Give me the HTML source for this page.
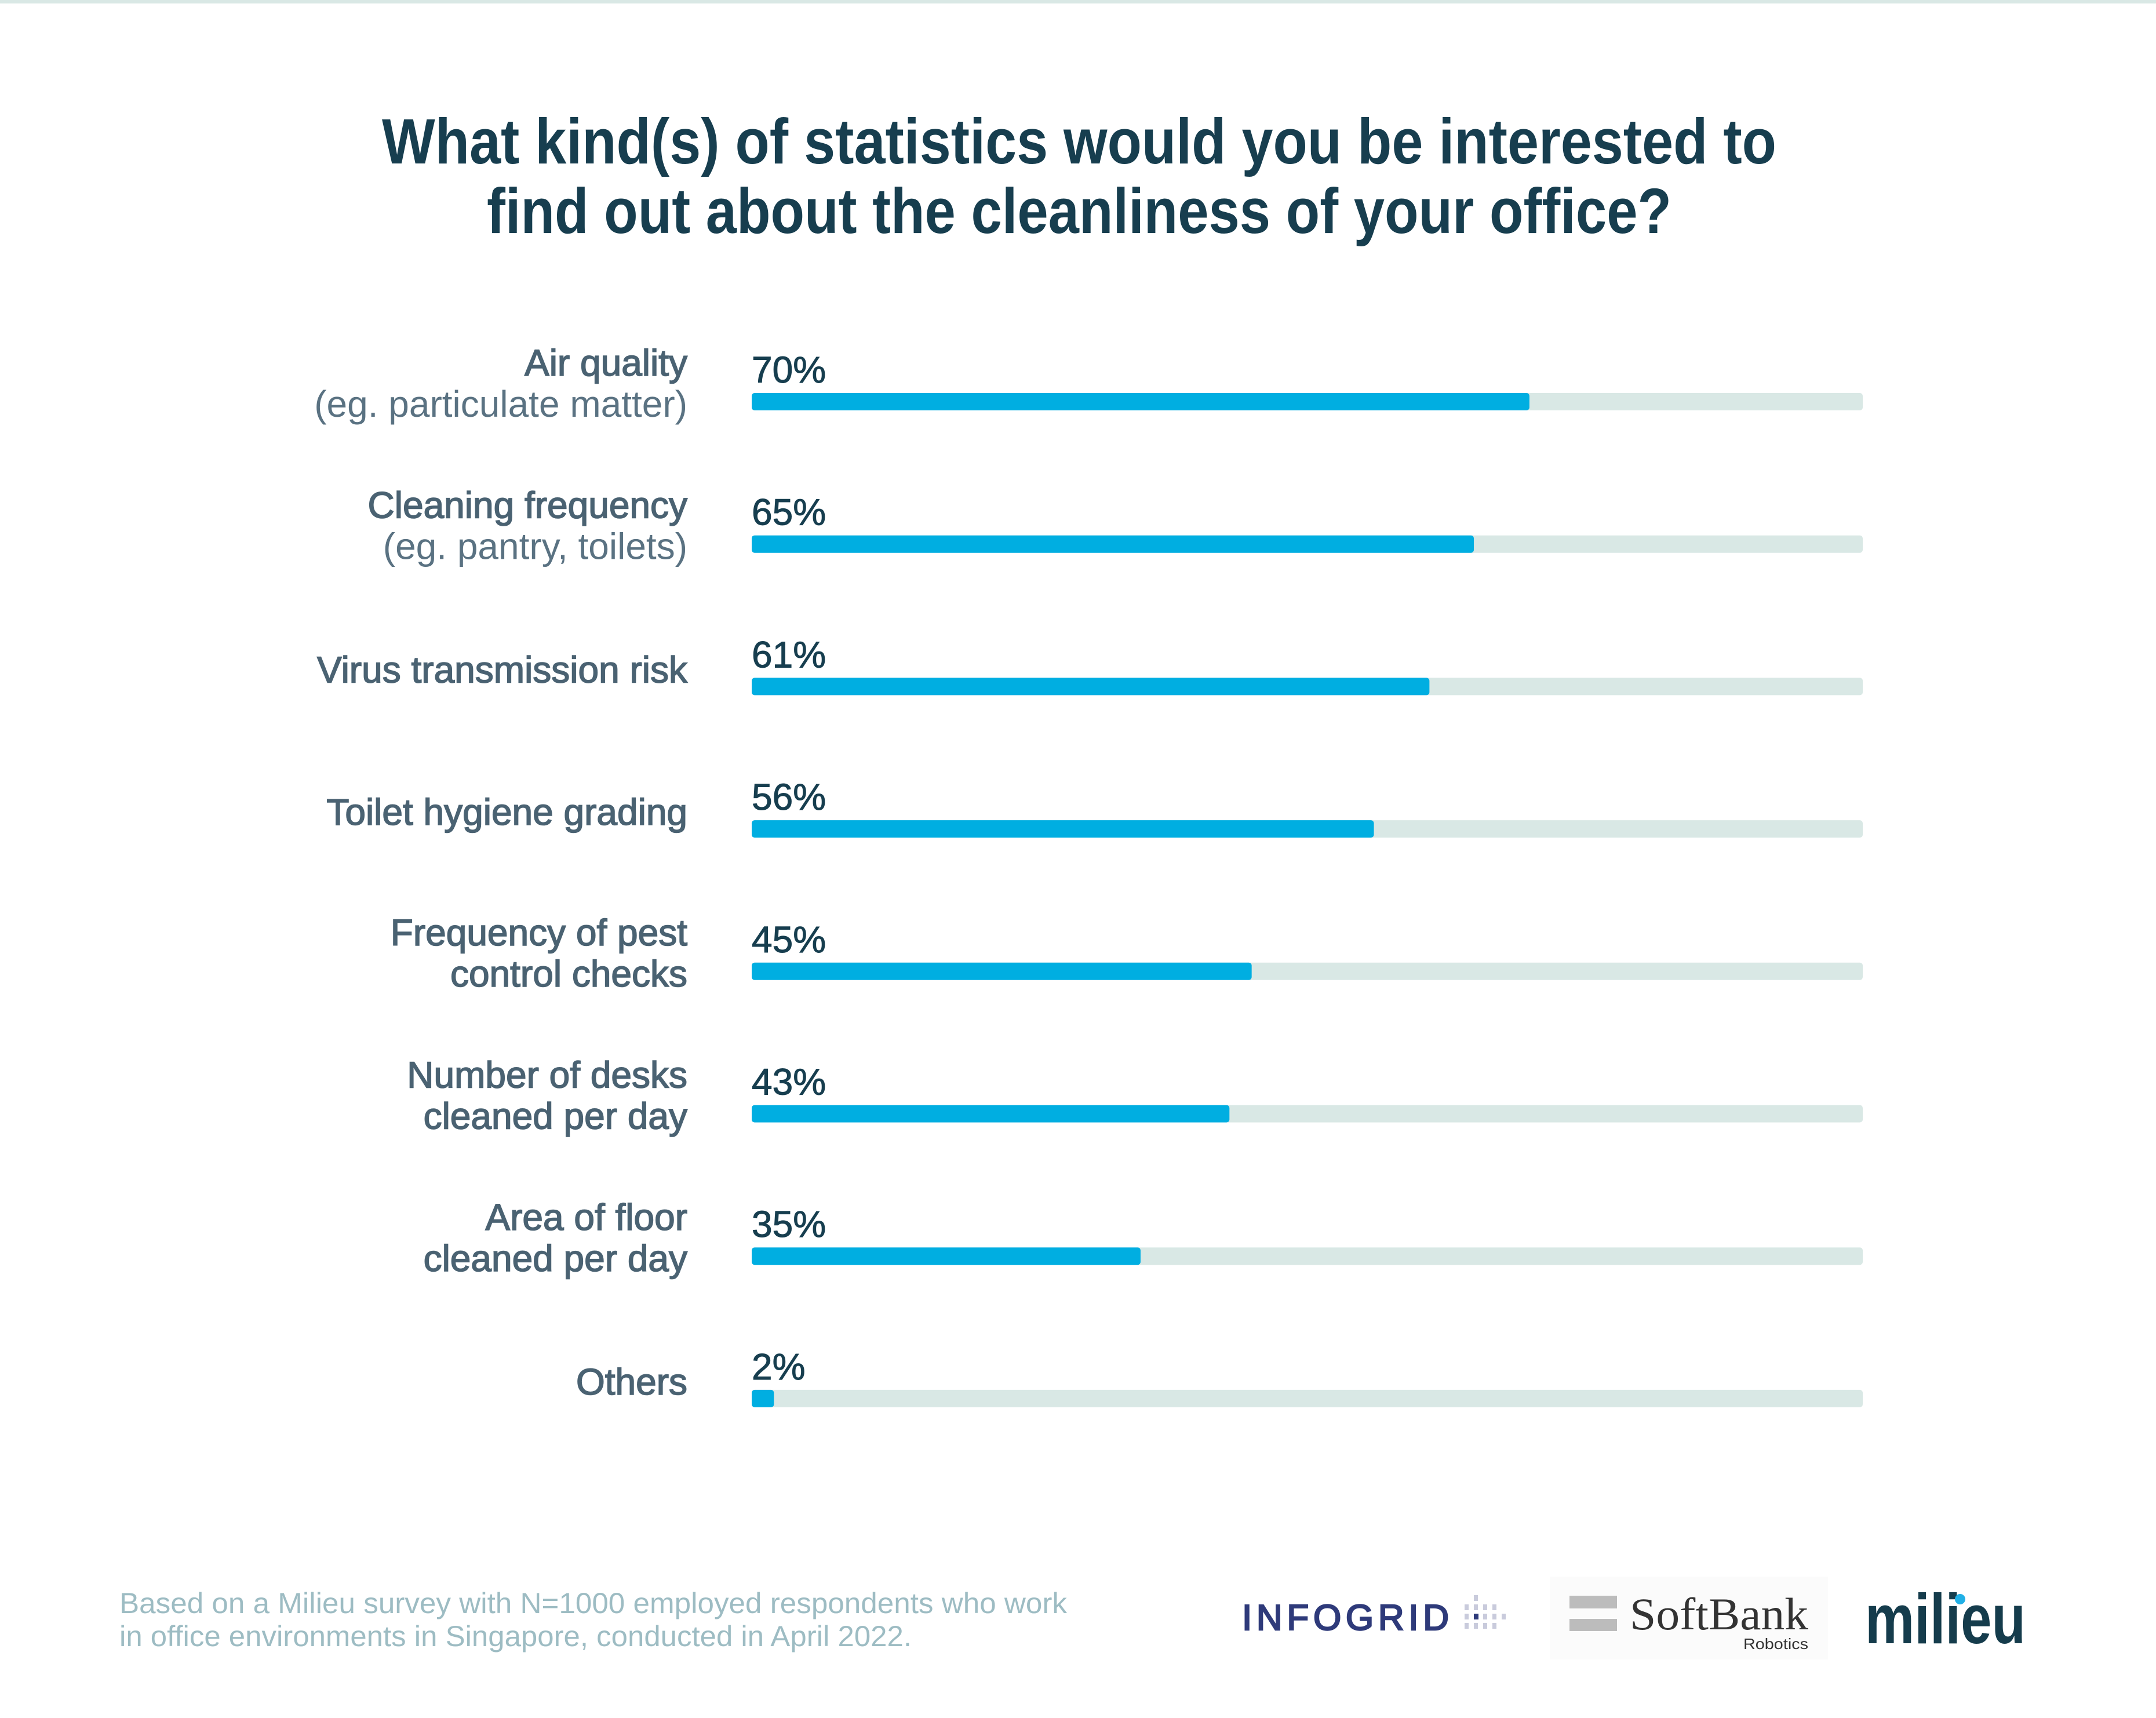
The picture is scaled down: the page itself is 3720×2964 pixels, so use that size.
<!DOCTYPE html>
<html><head><meta charset="utf-8">
<style>
html,body{margin:0;padding:0;background:#fff;}
svg{display:block;}
text{font-family:"Liberation Sans",sans-serif;}
</style></head>
<body>
<svg id="chart" width="3720" height="2964" viewBox="0 0 3720 2964" xmlns="http://www.w3.org/2000/svg">
<rect x="0" y="0" width="3720" height="2964" fill="#ffffff"/>
<rect x="0" y="0" width="3720" height="6" fill="#d9e8e5"/>
<text x="659" y="282" font-size="110" font-weight="bold" fill="#173e4f" textLength="2406" lengthAdjust="spacingAndGlyphs">What kind(s) of statistics would you be interested to</text>
<text x="840" y="402" font-size="110" font-weight="bold" fill="#173e4f" textLength="2044" lengthAdjust="spacingAndGlyphs">find out about the cleanliness of your office?</text>
<g id="bars"></g>
<text x="206" y="2783" font-size="50" fill="#9dbcc3" textLength="1635" lengthAdjust="spacingAndGlyphs">Based on a Milieu survey with N=1000 employed respondents who work</text>
<text x="206" y="2840" font-size="50" fill="#9dbcc3" textLength="1367" lengthAdjust="spacingAndGlyphs">in office environments in Singapore, conducted in April 2022.</text>
<g>
<text x="2143" y="2812" font-size="62" fill="#2e3a7a" stroke="#2e3a7a" stroke-width="2.5" textLength="357" lengthAdjust="spacing">INFOGRID</text>
<g fill="#c9cbdc">
<rect x="2543" y="2752" width="7" height="10"/>
<rect x="2527" y="2768" width="7" height="10"/><rect x="2543" y="2768" width="7" height="10"/><rect x="2559" y="2768" width="7" height="10"/><rect x="2575" y="2768" width="7" height="10"/>
<rect x="2527" y="2784" width="7" height="10"/><rect x="2559" y="2784" width="7" height="10"/><rect x="2575" y="2784" width="7" height="10"/><rect x="2591" y="2784" width="7" height="10"/>
<rect x="2527" y="2800" width="7" height="10"/><rect x="2543" y="2800" width="7" height="10"/><rect x="2559" y="2800" width="7" height="10"/><rect x="2575" y="2800" width="7" height="10"/>
</g>
<rect x="2543" y="2784" width="8" height="10" fill="#2e3a7a"/>
</g>
<g>
<rect x="2674" y="2720" width="480" height="143" fill="#fbfbfb"/>
<rect x="2708" y="2753" width="82" height="22" fill="#bcbcbc"/>
<rect x="2708" y="2793" width="82" height="21" fill="#bcbcbc"/>
<text x="2812" y="2811" font-size="78" fill="#333" textLength="308" lengthAdjust="spacingAndGlyphs" style="font-family:'Liberation Serif',serif">SoftBank</text>
<text x="3008" y="2845" font-size="26" fill="#333" textLength="112" lengthAdjust="spacingAndGlyphs">Robotics</text>
</g>
<g>
<text x="3218" y="2835" font-size="122" font-weight="bold" fill="#153c4c" textLength="277" lengthAdjust="spacingAndGlyphs">milieu</text>
<circle cx="3382" cy="2759" r="9" fill="#21b0e6"/>
</g>
</svg>
<script>
const categories = ["Air quality","Cleaning frequency","Virus transmission risk","Toilet hygiene grading","Frequency of pest control checks","Number of desks cleaned per day","Area of floor cleaned per day","Others"];
const values = [70, 65, 61, 56, 45, 43, 35, 2];
const labelLine1 = ["Air quality","Cleaning frequency","Virus transmission risk","Toilet hygiene grading","Frequency of pest","Number of desks","Area of floor","Others"];
const labelLine2 = ["(eg. particulate matter)","(eg. pantry, toilets)","","","control checks","cleaned per day","cleaned per day",""];
const line2Light = [true, true, false, false, false, false, false, false];
const valueLabels = ["70%","65%","61%","56%","45%","43%","35%","2%"];

const NS = "http://www.w3.org/2000/svg";
const X0 = 1297, X1 = 3214, TOP0 = 678, STEP = 245.7, BH = 30;
function xScale(v){ return X0 + (X1 - X0) * v / 100; }
function yBand(i){ return TOP0 + STEP * i; }

const g = document.getElementById('bars');
function mk(tag, attrs){ const e = document.createElementNS(NS, tag); for (const k in attrs) e.setAttribute(k, attrs[k]); return e; }

categories.forEach((cat, i) => {
  const top = yBand(i);
  const track = mk('rect', {x: X0, y: top, width: X1 - X0, height: BH, rx: 5, fill: '#d9e8e5'});
  
  
  g.appendChild(track);
  const bar = mk('rect', {x: X0, y: top, width: xScale(values[i]) - X0, height: BH, rx: 5, fill: '#00aee1'});
  
  
  g.appendChild(bar);
  const vl = mk('text', {x: X0, y: top - 18, 'font-size': 64, fill: '#173e4f', stroke: '#173e4f', 'stroke-width': 1});
  vl.textContent = valueLabels[i];
  
  
  g.appendChild(vl);
  const two = labelLine2[i] !== '';
  const l1 = mk('text', {x: 1186, y: two ? top - 30 : top + 8, 'font-size': 64, fill: '#4a6272', stroke: '#4a6272', 'stroke-width': 1.6, 'text-anchor': 'end'});
  l1.textContent = labelLine1[i];
  
  
  g.appendChild(l1);
  if (two) {
    const l2 = mk('text', {x: 1186, y: top + 41, 'font-size': 64, fill: '#4a6272', 'text-anchor': 'end'});
    if (line2Light[i]) { l2.setAttribute('fill', '#5a7282'); }
    else { l2.setAttribute('stroke', '#4a6272'); l2.setAttribute('stroke-width', '1.6'); }
    l2.textContent = labelLine2[i];
    
    
    g.appendChild(l2);
  }
});
</script>
</body></html>
